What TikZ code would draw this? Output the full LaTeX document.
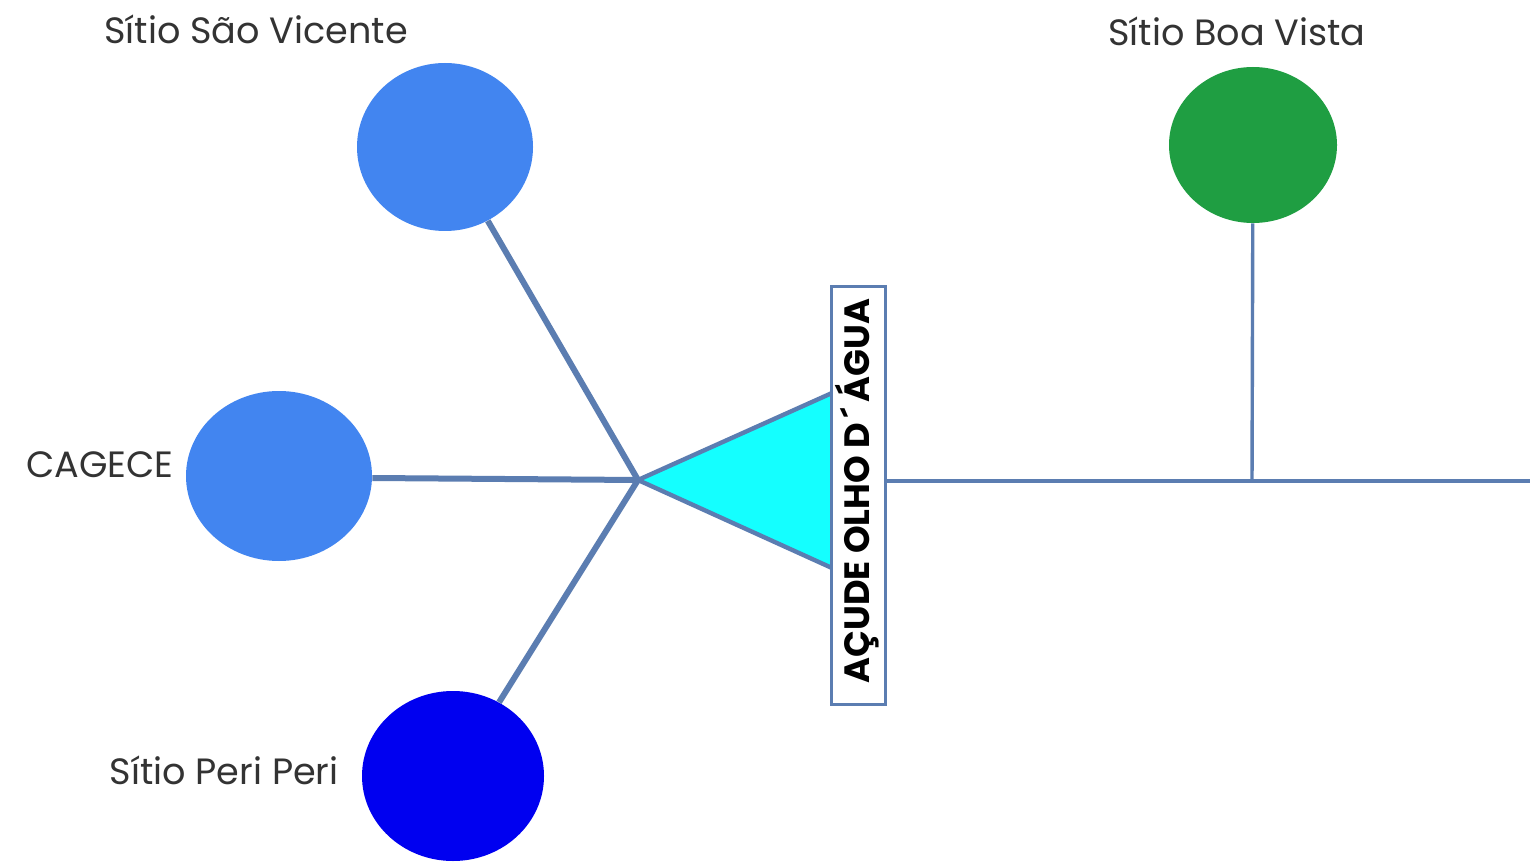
\documentclass[tikz,border=0pt]{standalone}
\usepackage{fontspec}
\setmainfont{Poppins}
\usetikzlibrary{shapes.geometric}
\definecolor{linec}{HTML}{5B7DB1}
\definecolor{blueA}{HTML}{4285F0}
\definecolor{blueB}{HTML}{0000F0}
\definecolor{greenA}{HTML}{1F9E42}
\definecolor{cyanA}{HTML}{14FFFF}
\definecolor{txt}{HTML}{333333}
\begin{document}
\begin{tikzpicture}[x=0.5pt,y=-0.5pt,
  site/.style={ellipse,inner sep=0pt,draw=none},
  lbl/.style={text=txt,font=\fontsize{18.3}{21}\selectfont,inner sep=0pt},
  conn/.style={draw=linec,line width=3pt},
  thin/.style={draw=linec,line width=1.7pt}]
\useasboundingbox (0,0) rectangle (1530,866);
\fill[white] (0,0) rectangle (1530,866);
% sites
\node[site,fill=blueA,minimum width=88pt,minimum height=84pt] (sv) at (445,147) {};
\node[site,fill=blueA,minimum width=93pt,minimum height=85pt] (cg) at (279,476) {};
\node[site,fill=blueB,minimum width=91pt,minimum height=85pt] (pp) at (453,776) {};
\node[site,fill=greenA,minimum width=84pt,minimum height=78pt] (bv) at (1253,145) {};
% labels
\node[lbl] (lsv) at (256,29) {Sítio São Vicente};
\node[lbl] (lbv) at (1237,31) {Sítio Boa Vista};
\node[lbl,anchor=east] (lcg) at (174,465) {CAGECE};
\node[lbl,anchor=east] (lpp) at (339,770) {Sítio Peri Peri};
% hub
\coordinate (hub) at (638,480);
\coordinate (t1) at (832,393);
\coordinate (t2) at (832,568);
\fill[cyanA] (hub) -- (t1) -- (t2) -- cycle;
\draw[conn,line width=2.2pt,line join=round] (t1) -- (hub) -- (t2);
\draw[conn] (sv) -- (hub);
\draw[conn] (cg.east) ++(0,2) -- (hub);
\draw[conn] (hub) -- (pp);
% reservoir label
\node[draw=linec,line width=1.5pt,fill=white,minimum width=27pt,minimum height=209pt,inner sep=0pt] (ac) at (858,495) {};
\node[rotate=90,font=\bfseries\fontsize{17.6}{20}\selectfont,text=black,inner sep=0pt] (act) at (857,491) {AÇUDE OLHO D\,´\,ÁGUA};
% outflow
\coordinate (endr) at (1530,481);
\coordinate (jbv) at (1252,481);
\draw[thin] (ac.east |- endr) -- (endr);
\draw[thin] (bv) -- (jbv);
\end{tikzpicture}
\end{document}
